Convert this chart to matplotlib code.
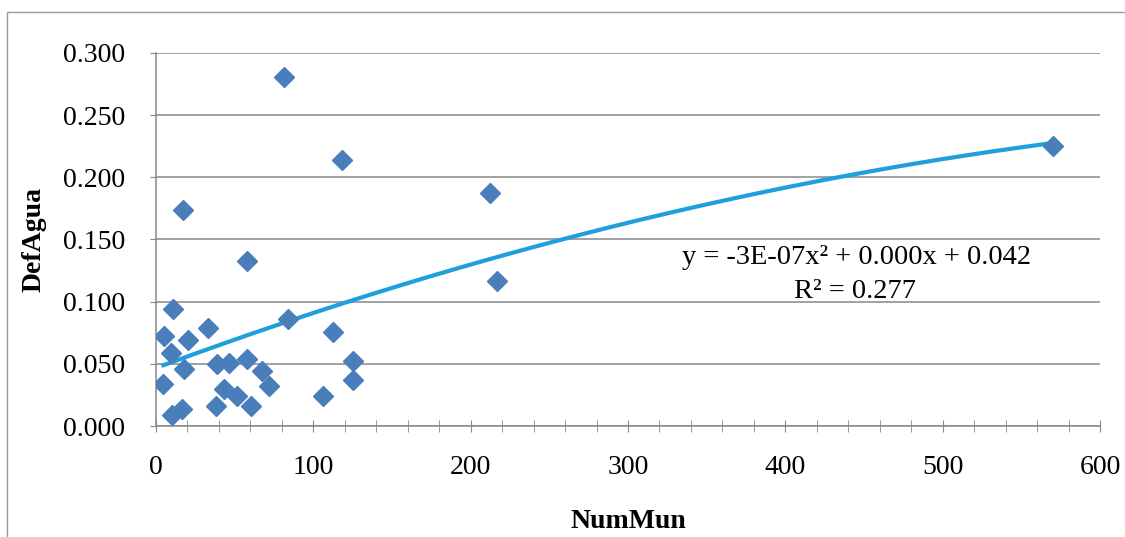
import numpy as np
import matplotlib
matplotlib.use('Agg')
import matplotlib.pyplot as plt
from matplotlib.patches import Rectangle
from matplotlib.ticker import MultipleLocator

# NumMun vs DefAgua
num_mun = [4.7, 5.1, 9.3, 10.0, 11.0, 16.3, 17.4, 17.8, 20.5, 33.3,
           38.1, 39.0, 43.2, 46.6, 51.3, 58.0, 58.0, 60.2, 67.2, 72.0,
           81.4, 84.1, 106.4, 112.7, 118.0, 125.0, 125.4, 212.3, 217.0, 570.4]
def_agua = [0.034, 0.072, 0.059, 0.009, 0.094, 0.014, 0.174, 0.046, 0.069, 0.079,
            0.016, 0.050, 0.030, 0.051, 0.024, 0.133, 0.054, 0.016, 0.044, 0.032,
            0.281, 0.086, 0.024, 0.076, 0.214, 0.037, 0.052, 0.187, 0.117, 0.225]

eq_label = "y = -3E-07x\u00b2 + 0.000x + 0.042"
r2_label = "R\u00b2 = 0.277"

plt.rcParams['font.family'] = ['Liberation Serif', 'DejaVu Serif']

W, H = 1125, 537
fig = plt.figure(figsize=(W / 100, H / 100), dpi=100)

# outer chart frame (only left and top edges visible in the reference)
fig.patches.append(Rectangle((7 / W, -0.1), 1.2, 1.1 - 12 / H,
                             transform=fig.transFigure, fill=False,
                             edgecolor='#9a9a9a', linewidth=1.0))

ax = fig.add_axes([156 / W, 1 - 426 / H, 944 / W, 373 / H])

x = np.array(num_mun)
y = np.array(def_agua)

# polynomial (order 2) trendline
coef = np.polyfit(x, y, 2)
xs = np.linspace(x.min(), x.max(), 300)
ax.plot(xs, np.polyval(coef, xs), color='#1f9fdb', linewidth=3, zorder=2)

ax.plot(x, y, linestyle='none', marker='D', markersize=10.5,
        markerfacecolor='#4a7ebb', markeredgecolor='#4a7ebb', zorder=3)

ax.set_xlim(0, 600)
ax.set_ylim(0, 0.3)
ax.xaxis.set_major_locator(MultipleLocator(100))
ax.xaxis.set_minor_locator(MultipleLocator(20))
ax.yaxis.set_major_locator(MultipleLocator(0.05))
ax.yaxis.set_major_formatter(lambda v, p: f"{v:.3f}")

ax.grid(axis='y', color='#888888', linewidth=1.1)
ax.set_axisbelow(True)
for s in ['top', 'right']:
    ax.spines[s].set_visible(False)
for s in ['left', 'bottom']:
    ax.spines[s].set_color('#888888')
    ax.spines[s].set_linewidth(1.1)

ax.tick_params(axis='x', which='both', direction='inout', length=8,
               color='#888888', labelsize=20, pad=17)
ax.tick_params(axis='y', direction='out', length=4, color='#888888',
               labelsize=20, pad=18)

ax.set_xlabel("NumMun", fontsize=20, fontweight='bold', labelpad=21)
ax.set_ylabel("DefAgua", fontsize=20, fontweight='bold', labelpad=12)

fig.text(857 / W, 1 - 258 / H, eq_label, fontsize=20.5, ha='center', va='center')
fig.text(855 / W, 1 - 291 / H, r2_label, fontsize=20.5, ha='center', va='center')

fig.savefig('out.png', dpi=100)
